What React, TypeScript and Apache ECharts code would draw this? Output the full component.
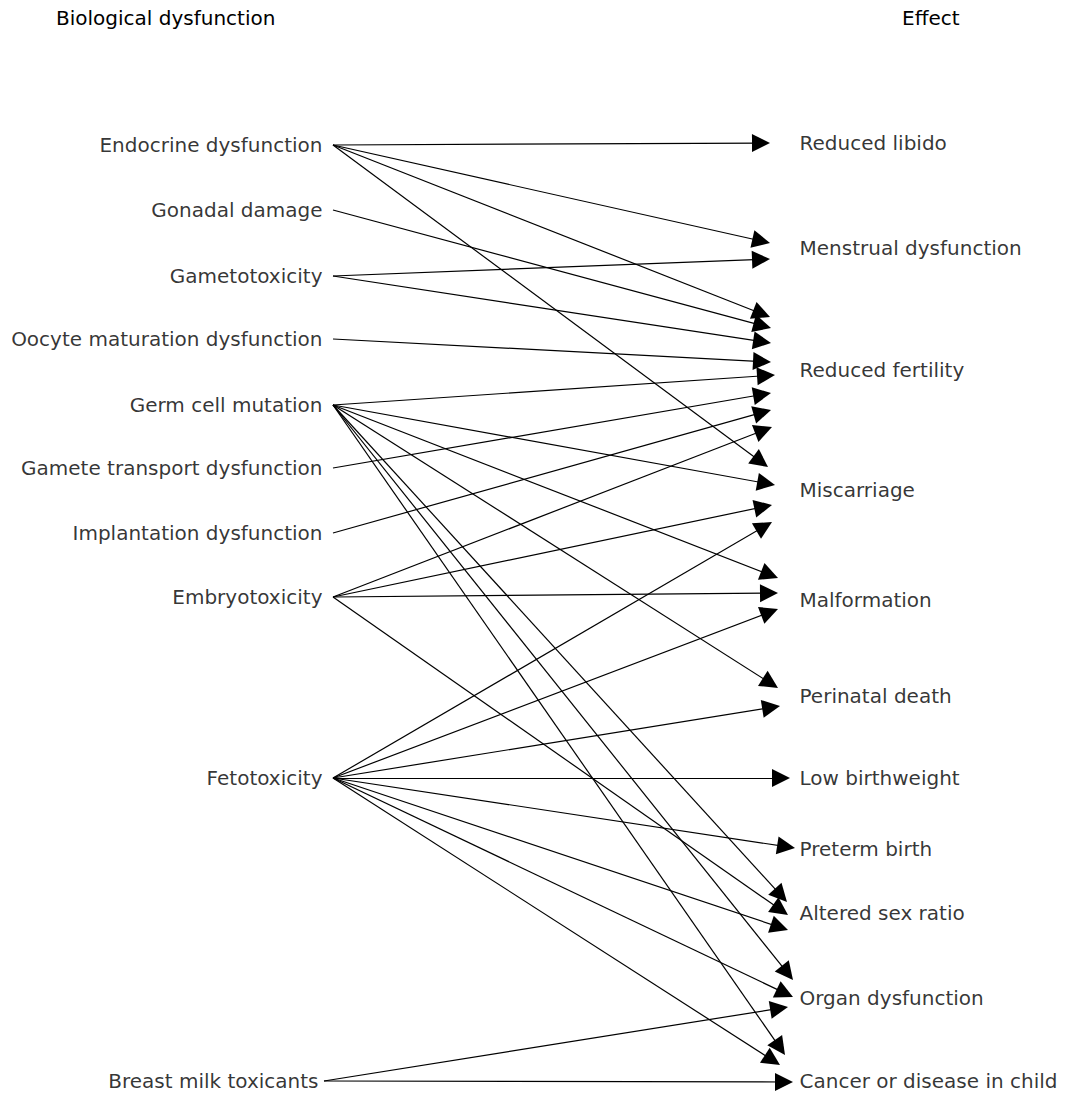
import React, { useEffect, useRef } from "react";
import * as echarts from "echarts";

const sourceNames = [
  "Endocrine dysfunction",
  "Gonadal damage",
  "Gametotoxicity",
  "Oocyte maturation dysfunction",
  "Germ cell mutation",
  "Gamete transport dysfunction",
  "Implantation dysfunction",
  "Embryotoxicity",
  "Fetotoxicity",
  "Breast milk toxicants",
];
const sourceY = [145, 210, 276, 339, 405, 468, 533, 597, 778, 1081];
const sourceStartX = [333, 333, 333, 333, 333, 333, 333, 333, 333, 324];

const targetNames = [
  "Reduced libido",
  "Menstrual dysfunction",
  "Reduced fertility",
  "Miscarriage",
  "Malformation",
  "Perinatal death",
  "Low birthweight",
  "Preterm birth",
  "Altered sex ratio",
  "Organ dysfunction",
  "Cancer or disease in child",
];
const targetY = [143, 248, 370, 490, 600, 696, 778, 849, 913, 998, 1081];

// edges: source index, target index, arrow tip position
const edgeSource = [0, 0, 0, 0, 1, 2, 2, 3, 4, 5, 6, 7, 4, 7, 8, 4, 7, 8, 4, 8, 8, 8, 4, 7, 8, 4, 8, 9, 4, 8, 9];
const edgeTarget = [0, 1, 2, 3, 2, 1, 2, 2, 2, 2, 2, 2, 3, 3, 3, 4, 4, 4, 5, 5, 6, 7, 8, 8, 8, 9, 9, 9, 10, 10, 10];
const tipX = [770, 770, 770, 768, 771, 770, 771, 771, 775, 771, 771, 772, 775, 772, 772, 778, 778, 778, 778, 780, 790, 795, 787, 788, 788, 793, 793, 788, 785, 780, 793];
const tipY = [143, 243, 317, 467, 328, 259, 343, 362, 375, 393, 410, 427, 485, 505, 522, 578, 593, 609, 688, 706, 778, 848, 902, 915, 930, 980, 997, 1007, 1055, 1065, 1082];

const W = 1075;
const H = 1093;
const FONT = "DejaVu Sans";
const FS = 20;
const ARROW_W = 12;
const ARROW_L = 18;

export default function App() {
  const ref = useRef<HTMLDivElement>(null);
  useEffect(() => {
    document.body.style.margin = "0";
    const chart = echarts.init(ref.current!, null, { renderer: "svg" });

    const lineData = edgeSource.map((s, i) => {
      const x0 = sourceStartX[s];
      const y0 = sourceY[s];
      const x1 = tipX[i];
      const y1 = tipY[i];
      const dx = x1 - x0;
      const dy = y1 - y0;
      const len = Math.sqrt(dx * dx + dy * dy);
      const ex = x1 - (dx / len) * (ARROW_L / 2);
      const ey = y1 - (dy / len) * (ARROW_L / 2);
      return {
        name: sourceNames[s] + " → " + targetNames[edgeTarget[i]],
        coords: [
          [x0, y0],
          [ex, ey],
        ],
      };
    });

    chart.setOption({
      animation: false,
      backgroundColor: "#ffffff",
      grid: { left: 0, right: 0, top: 0, bottom: 0 },
      xAxis: { type: "value", min: 0, max: W, show: false },
      yAxis: { type: "value", min: 0, max: H, inverse: true, show: false },
      graphic: [
        {
          type: "text",
          left: 56,
          top: 8,
          style: { text: "Biological dysfunction", font: `${FS}px "${FONT}"`, fill: "#000" },
        },
        {
          type: "text",
          left: 902,
          top: 8,
          style: { text: "Effect", font: `${FS}px "${FONT}"`, fill: "#000" },
        },
      ],
      series: [
        {
          type: "lines",
          coordinateSystem: "cartesian2d",
          symbol: ["none", "path://M5,0 L10,18 L0,18 Z"],
          symbolSize: [ARROW_W, ARROW_L],
          lineStyle: { color: "#000", width: 1.2, opacity: 1 },
          itemStyle: { color: "#000" },
          data: lineData,
          silent: true,
        },
        {
          type: "scatter",
          symbolSize: 1,
          itemStyle: { color: "transparent" },
          label: {
            show: true,
            position: "left",
            distance: 10,
            formatter: (p: any) => p.value[2],
            fontFamily: FONT,
            fontSize: FS,
            color: "#000",
          },
          data: sourceNames.map((n, i) => [sourceStartX[i] === 333 ? 333 : 329, sourceY[i], n]),
          silent: true,
        },
        {
          type: "scatter",
          symbolSize: 1,
          itemStyle: { color: "transparent" },
          label: {
            show: true,
            position: "right",
            distance: 0,
            formatter: (p: any) => p.value[2],
            fontFamily: FONT,
            fontSize: FS,
            color: "#000",
          },
          data: targetNames.map((n, i) => [799, targetY[i], n]),
          silent: true,
        },
      ],
    });
    return () => chart.dispose();
  }, []);
  return (
    <div
      ref={ref}
      style={{ position: "absolute", left: 0, top: 0, width: W, height: H }}
    />
  );
}
